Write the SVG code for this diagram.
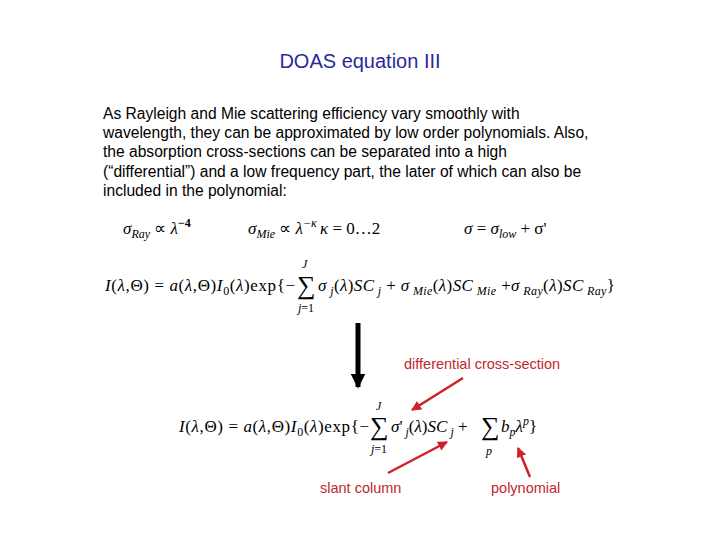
<svg xmlns="http://www.w3.org/2000/svg" width="720" height="540" viewBox="0 0 720 540">
<style>
.t{font-family:"Liberation Sans",Arial,sans-serif;font-size:15.6px;fill:#000}
.m{font-family:"Liberation Serif","Times New Roman",serif;font-size:17px;font-style:italic;fill:#000}
.n{font-style:normal}
.s{font-size:12px}
.r{font-family:"Liberation Sans",Arial,sans-serif;font-size:14.5px;fill:#c0282d}
.big{font-family:"Liberation Serif",serif;font-size:26px;fill:#000}
</style>
<defs>
<marker id="ra" viewBox="0 0 10 10" refX="9" refY="5" markerWidth="4" markerHeight="4" orient="auto"><path d="M0,0L10,5L0,10z" fill="#d0202a"/></marker>
<marker id="ba" viewBox="0 0 10 10" refX="9" refY="5" markerWidth="3" markerHeight="3" orient="auto"><path d="M0,0L10,5L0,10z" fill="#000"/></marker>
</defs>
<rect width="720" height="540" fill="#fff"/>
<text x="360" y="68" text-anchor="middle" font-family="Liberation Sans,Arial,sans-serif" font-size="20" fill="#2a2a9a">DOAS equation III</text>
<g id="para">
<text class="t" x="103" y="119">As Rayleigh and Mie scattering efficiency vary smoothly with</text>
<text class="t" x="103" y="138">wavelength, they can be approximated by low order polynomials. Also,</text>
<text class="t" x="103" y="157">the absorption cross-sections can be separated into a high</text>
<text class="t" x="103" y="177">(“differential”) and a low frequency part, the later of which can also be</text>
<text class="t" x="103" y="196">included in the polynomial:</text>
</g>
<g id="eqs1">
<text class="m" x="123" y="234">σ<tspan class="s" dy="4">Ray</tspan><tspan dy="-4" class="n"> ∝ </tspan>λ<tspan class="s n" dy="-7" font-weight="bold">−4</tspan></text>
<text class="m" x="248" y="234">σ<tspan class="s" dy="4">Mie</tspan><tspan dy="-4" class="n"> ∝ </tspan>λ<tspan class="s" dy="-7">−κ</tspan></text>
<text class="m" x="320" y="234">κ<tspan class="n"> = 0…2</tspan></text>
<text class="m" x="464" y="234">σ<tspan class="n"> = </tspan>σ<tspan class="s" dy="4">low</tspan><tspan dy="-4" class="n"> + σ'</tspan></text>
</g>
<g id="eq1">
<text class="m" x="105" y="291" textLength="190" lengthAdjust="spacing">I<tspan class="n">(</tspan>λ<tspan class="n">,Θ) = </tspan>a<tspan class="n">(</tspan>λ<tspan class="n">,Θ)</tspan>I<tspan class="s n" dy="4">0</tspan><tspan dy="-4" class="n">(</tspan>λ<tspan class="n">)exp{−</tspan></text>
<text class="big" x="297" y="294">∑</text>
<text class="m s" x="302" y="268">J</text>
<text class="m s" x="298" y="312">j<tspan class="n">=1</tspan></text>
<text class="m" x="318" y="291" textLength="297" lengthAdjust="spacing">σ<tspan class="s" dy="4"> j</tspan><tspan dy="-4" class="n">(</tspan>λ<tspan class="n">)</tspan>SC<tspan class="s" dy="4"> j</tspan><tspan dy="-4" class="n"> + </tspan>σ<tspan class="s" dy="4"> Mie</tspan><tspan dy="-4" class="n">(</tspan>λ<tspan class="n">)</tspan>SC<tspan class="s" dy="4"> Mie</tspan><tspan dy="-4" class="n"> +</tspan>σ<tspan class="s" dy="4"> Ray</tspan><tspan dy="-4" class="n">(</tspan>λ<tspan class="n">)</tspan>SC<tspan class="s" dy="4"> Ray</tspan><tspan dy="-4" class="n">}</tspan></text>
</g>
<g id="eq2">
<text class="m" x="179" y="432" textLength="190" lengthAdjust="spacing">I<tspan class="n">(</tspan>λ<tspan class="n">,Θ) = </tspan>a<tspan class="n">(</tspan>λ<tspan class="n">,Θ)</tspan>I<tspan class="s n" dy="4">0</tspan><tspan dy="-4" class="n">(</tspan>λ<tspan class="n">)exp{−</tspan></text>
<text class="big" x="370" y="435">∑</text>
<text class="m s" x="376" y="410">J</text>
<text class="m s" x="371" y="453">j<tspan class="n">=1</tspan></text>
<text class="m" x="391" y="432">σ<tspan class="n">'</tspan><tspan class="s" dy="4"> j</tspan><tspan dy="-4" class="n">(</tspan>λ<tspan class="n">)</tspan>SC<tspan class="s" dy="4"> j</tspan><tspan dy="-4" class="n"> + </tspan></text>
<text class="big" x="481" y="435">∑</text>
<text class="m s" x="486" y="455">p</text>
<text class="m" x="501" y="432">b<tspan class="s" dy="4">p</tspan><tspan dy="-4">λ</tspan><tspan class="s" dy="-7">p</tspan><tspan class="n" dy="7">}</tspan></text>
</g>
<g id="labels">
<text class="r" x="404" y="369">differential cross-section</text>
<text class="r" x="320" y="493">slant column</text>
<text class="r" x="491" y="493">polynomial</text>
</g>
<g id="connectors">
<line x1="358" y1="323" x2="358" y2="387" stroke="#000" stroke-width="5" marker-end="url(#ba)"/>
<line x1="463" y1="378" x2="412" y2="410" stroke="#d0202a" stroke-width="2.5" marker-end="url(#ra)"/>
<line x1="388" y1="473" x2="447" y2="442" stroke="#d0202a" stroke-width="2.5" marker-end="url(#ra)"/>
<line x1="530" y1="477" x2="518" y2="448" stroke="#d0202a" stroke-width="2.5" marker-end="url(#ra)"/>
</g>
</svg>
